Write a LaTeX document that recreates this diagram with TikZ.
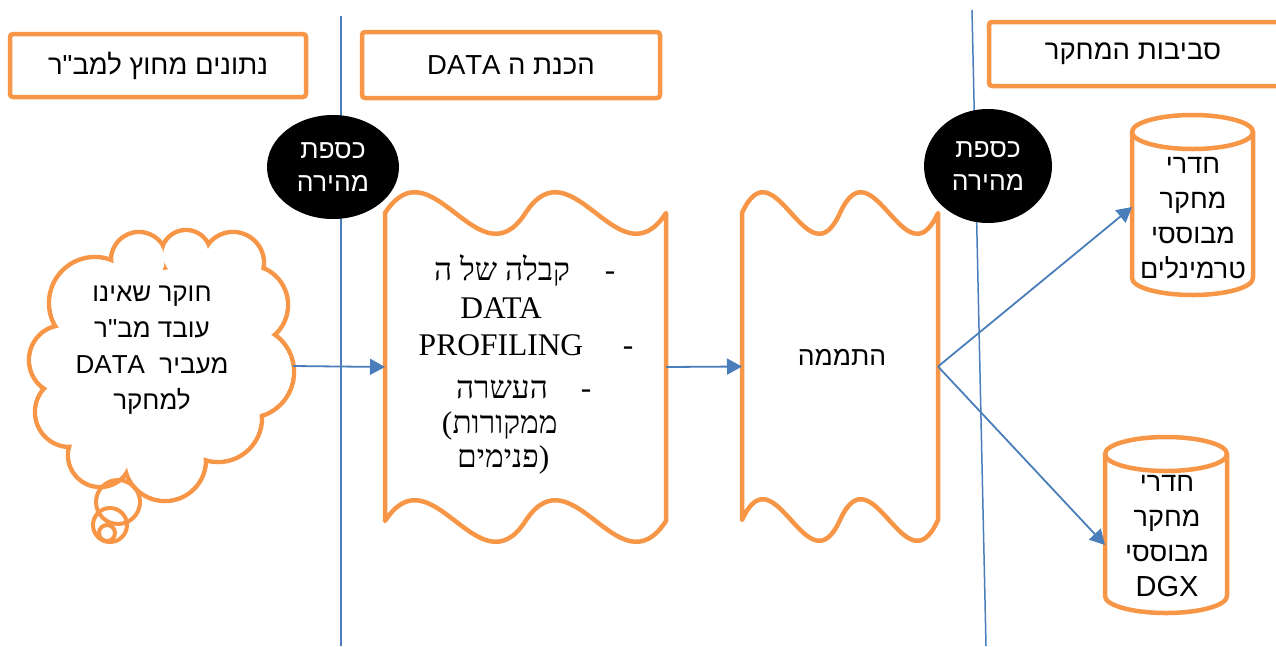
\documentclass[tikz,border=0pt]{standalone}
\usepackage{fontspec}
\setmainfont{Liberation Sans}
\newfontfamily\hs[Script=Hebrew]{Liberation Sans}
\newfontfamily\hr[Script=Hebrew]{Liberation Serif}
\newfontfamily\lserif{Liberation Serif}
\TeXXeTstate=1
\newcommand\heb[1]{\beginR #1\endR}
\newcommand\lat[1]{\beginL #1\endL{}}
\usetikzlibrary{arrows.meta,shapes.geometric,calc}
\definecolor{org}{HTML}{F79646}
\definecolor{blu}{HTML}{4A7EBB}
\begin{document}
\begin{tikzpicture}[x=1pt,y=-1pt,
  hdr/.style={draw=org, line width=4.5pt, rounded corners=3pt, fill=white, inner sep=0pt, font=\hs\fontsize{27.5}{32}\selectfont},
  txt/.style={inner sep=0pt, font=\hs\fontsize{27.5}{32}\selectfont},
  sertxt/.style={inner sep=0pt, anchor=base, font=\hr\fontsize{31.5}{36}\selectfont},
  partxt/.style={inner sep=0pt, anchor=base, font=\lserif\fontsize{31.5}{36}\selectfont},
  vault/.style={ellipse, fill=black, text=white, inner sep=0pt, align=center, font=\hs\fontsize{26.5}{33}\selectfont},
  ghost/.style={inner sep=0pt, outer sep=0pt},
  orline/.style={draw=org, line width=4.5pt, line join=round},
  vline/.style={draw=blu, line width=1.5pt},
  arr/.style={draw=blu, line width=1.8pt, -{Triangle[length=15pt,width=16pt]}}]
\useasboundingbox (0,0) rectangle (1276,646);
\clip (0,0) rectangle (1276,646);

% lane separators
\coordinate (v1t) at (341,16);
\coordinate (v1b) at (341,646);
\coordinate (v2t) at (972,10);
\coordinate (v2b) at (986,646);
\draw[vline] (v1t) -- (v1b);
\draw[vline] (v2t) -- (v2b);

% headers
\node[hdr, minimum width=296pt, minimum height=63pt] (h1) at (158,65.5) {\heb{נתונים מחוץ למב"ר}};
\node[hdr, minimum width=298pt, minimum height=66pt] (h2) at (511,65) {\heb{הכנת ה \lat{DATA}}};
\node[hdr, minimum width=301pt, minimum height=64pt] (h3) at (1139.5,54) {};
\node[txt] (h3t) at (1133,54) {\heb{סביבות המחקר}};

% fast vaults
\node[vault, minimum width=132pt, minimum height=104pt] (k1) at (333,167) {\heb{כספת}\\\heb{מהירה}};
\node[vault, minimum width=128pt, minimum height=114pt] (k2) at (988,166) {\heb{כספת}\\\heb{מהירה}};

% cloud
\foreach \cx/\cy/\r in {95/303/46,139/260/28,186/255/25,233/263/31,248/305/40,248/372/46,218/418/44,165/460/41,100/455/32,70/412/35,64/360/35}
  \draw[draw=org, line width=4.5pt] (\cx,\cy) circle[radius=\r pt];
\foreach \cx/\cy/\r in {95/303/46,139/260/28,186/255/25,233/263/31,248/305/40,248/372/46,218/418/44,165/460/41,100/455/32,70/412/35,64/360/35}
  \fill[white] (\cx,\cy) circle[radius=\r pt-2.3pt];
\fill[white] (64.5,331) -- (124,279) -- (164.5,270) -- (203,262) -- (254,278.5) -- (265,344.5) -- (249,413) -- (200.5,439) -- (130,453.5) -- (79,441) -- (67.5,390) -- cycle;
\draw[draw=org, line width=4pt] (118,502) circle[radius=22pt];
\draw[draw=org, line width=4pt] (110,525) circle[radius=17pt];
\draw[draw=org, line width=4pt] (107,533) circle[radius=8pt];
\node[ghost, minimum width=265pt, minimum height=272pt] (cloud) at (160.5,366) {};
\node[txt, align=center, font=\hs\fontsize{26}{36}\selectfont] (cloudt) at (152,350)
  {\heb{חוקר שאינו}\\\heb{עובד מב"ר}\\\heb{מעביר~~\lat{DATA}}\\\heb{למחקר}};

% wave box 1
\path[orline, fill=white] (385,213) .. controls (431.8,141) and (478.7,285) .. (525.5,213)
  .. controls (572.3,141) and (619.2,285) .. (666,213) -- (666,521)
  .. controls (619.2,593) and (572.3,449) .. (525.5,521)
  .. controls (478.7,593) and (431.8,449) .. (385,521) -- cycle;
\node[ghost, minimum width=281pt, minimum height=308pt] (b1) at (525.5,367) {};
\node[sertxt] (l1) at (502,280) {\heb{קבלה של ה}};
\node[sertxt] (l2) at (501,318) {DATA};
\node[sertxt] (l3) at (501,355) {PROFILING};
\node[sertxt] (l4) at (502,398) {\heb{העשרה}};
\node[sertxt] (l5) at (505,433) {\heb{ממקורות}};
\node[partxt] (p5) at (447,433) {(};
\node[sertxt] (l6) at (498,467) {\heb{פנימים}};
\node[partxt] (p6) at (544,467) {)};
\node[sertxt] (d1) at (610,280) {-};
\node[sertxt] (d3) at (628,355) {-};
\node[sertxt] (d4) at (586,398) {-};

% wave box 2
\path[orline, fill=white] (742,213) .. controls (774.7,141) and (807.3,285) .. (840,213)
  .. controls (872.7,141) and (905.3,285) .. (938,213) -- (938,520)
  .. controls (905.3,592) and (872.7,448) .. (840,520)
  .. controls (807.3,592) and (774.7,448) .. (742,520) -- cycle;
\node[ghost, minimum width=196pt, minimum height=307pt] (b2) at (840,366.5) {};
\node[txt, font=\hs\fontsize{26.5}{30}\selectfont] (t2) at (842,357) {\heb{התממה}};

% cylinders
\path[orline, fill=white] (1132,132) -- (1132,278) arc[start angle=180, end angle=360, x radius=60.5pt, y radius=17pt]
  -- (1253,132) arc[start angle=0, end angle=180, x radius=60.5pt, y radius=17pt] -- cycle;
\draw[orline] (1132,132) arc[start angle=180, end angle=360, x radius=60.5pt, y radius=17pt];
\node[ghost, minimum width=121pt, minimum height=180pt] (c1) at (1192.5,205) {};
\node[txt, align=center, font=\hs\fontsize{27}{35}\selectfont] (ct1) at (1193,218)
  {\heb{חדרי}\\\heb{מחקר}\\\heb{מבוססי}\\\heb{טרמינלים}};

\path[orline, fill=white] (1105,454) -- (1105,596) arc[start angle=180, end angle=360, x radius=61pt, y radius=17pt]
  -- (1227,454) arc[start angle=0, end angle=180, x radius=61pt, y radius=17pt] -- cycle;
\draw[orline] (1105,454) arc[start angle=180, end angle=360, x radius=61pt, y radius=17pt];
\node[ghost, minimum width=122pt, minimum height=176pt] (c2) at (1166,525) {};
\node[txt, align=center, font=\hs\fontsize{27}{35}\selectfont] (ct2) at (1167,536)
  {\heb{חדרי}\\\heb{מחקר}\\\heb{מבוססי}\\{\fontsize{29}{35}\selectfont DGX}};

% connectors
\draw[arr] (cloud.east) -- (b1.west);
\draw[arr] (b1.east) -- (b2.west);
\draw[arr] (b2.east) -- ($(c1.west)+(0,2)$);
\draw[arr] (b2.east) -- ($(c2.west)+(0,20)$);
\end{tikzpicture}
\end{document}
